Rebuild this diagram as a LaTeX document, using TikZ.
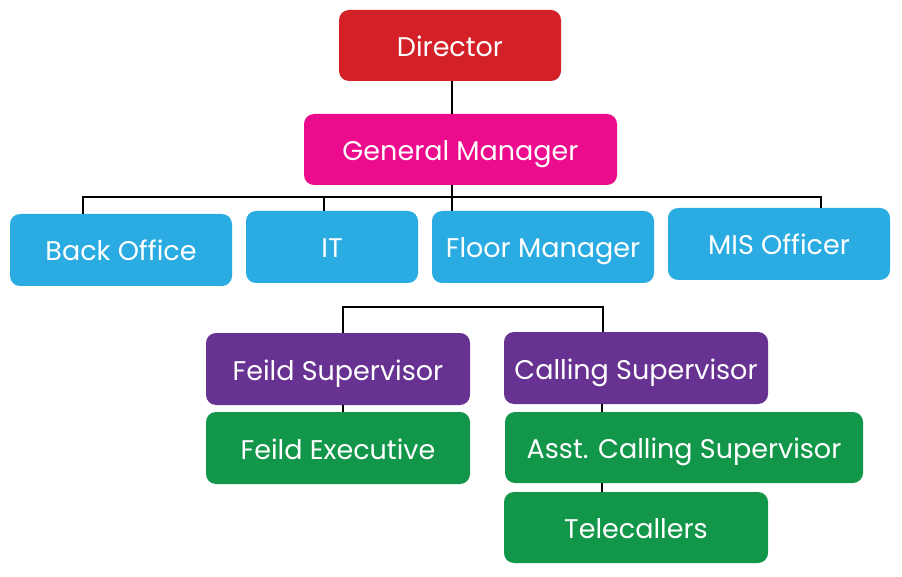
\documentclass[tikz,border=0pt]{standalone}
\usepackage{fontspec}
\setmainfont{Poppins}
\definecolor{cRed}{HTML}{D42127}
\definecolor{cMag}{HTML}{EC0B8D}
\definecolor{cBlue}{HTML}{2AACE2}
\definecolor{cPurp}{HTML}{683292}
\definecolor{cGreen}{HTML}{12964A}
\tikzset{
  box/.style={rectangle, rounded corners=10pt, inner sep=0pt, text=white,
    text height=22pt, text depth=0pt,
    font=\fontsize{27}{30}\selectfont},
  conn/.style={draw=black, line width=2pt},
}
\begin{document}
\begin{tikzpicture}[x=1pt,y=-1pt]
\useasboundingbox[fill=white] (0,0) rectangle (902,577);
\node[box, fill=cRed, minimum width=222pt, minimum height=71pt] (dir) at (450,45.5) {Director};
\node[box, fill=cMag, minimum width=313pt, minimum height=71pt] (gm) at (460.5,149.5) {General Manager};
\node[box, fill=cBlue, minimum width=222pt, minimum height=72pt] (bo) at (121,250) {Back Office};
\node[box, fill=cBlue, minimum width=172pt, minimum height=72pt] (it) at (332,247) {IT};
\node[box, fill=cBlue, minimum width=222pt, minimum height=72pt] (fm) at (543,247) {Floor Manager};
\node[box, fill=cBlue, minimum width=222pt, minimum height=72pt] (mis) at (779,244) {MIS Officer};
\node[box, fill=cPurp, minimum width=264pt, minimum height=72pt] (fs) at (338,369) {Feild Supervisor};
\node[box, fill=cPurp, minimum width=264pt, minimum height=72pt] (cs) at (636,368) {Calling Supervisor};
\node[box, fill=cGreen, minimum width=264pt, minimum height=72pt] (fe) at (338,448) {Feild Executive};
\node[box, fill=cGreen, minimum width=358pt, minimum height=71pt] (acs) at (684,447.5) {Asst. Calling Supervisor};
\node[box, fill=cGreen, minimum width=264pt, minimum height=71pt] (tc) at (636,527.5) {Telecallers};
\coordinate (busL) at (83,197);
\coordinate (busR) at (821,197);
\coordinate (busIT) at (324,197);
\coordinate (bus2L) at (343,307);
\coordinate (bus2R) at (603,307);
\draw[conn] (452,0 |- dir.south) -- (452,0 |- gm.north);
\draw[conn] (83,0 |- bo.north) -- (busL) -- (busR) -- (821,0 |- mis.north);
\draw[conn] (busIT) -- (324,0 |- it.north);
\draw[conn] (452,0 |- gm.south) -- (452,0 |- fm.north);
\draw[conn] (343,0 |- fs.north) -- (bus2L) -- (bus2R) -- (603,0 |- cs.north);
\draw[conn] (343,0 |- fs.south) -- (343,0 |- fe.north);
\draw[conn] (602,0 |- cs.south) -- (602,0 |- acs.north);
\draw[conn] (602,0 |- acs.south) -- (602,0 |- tc.north);
\end{tikzpicture}
\end{document}
